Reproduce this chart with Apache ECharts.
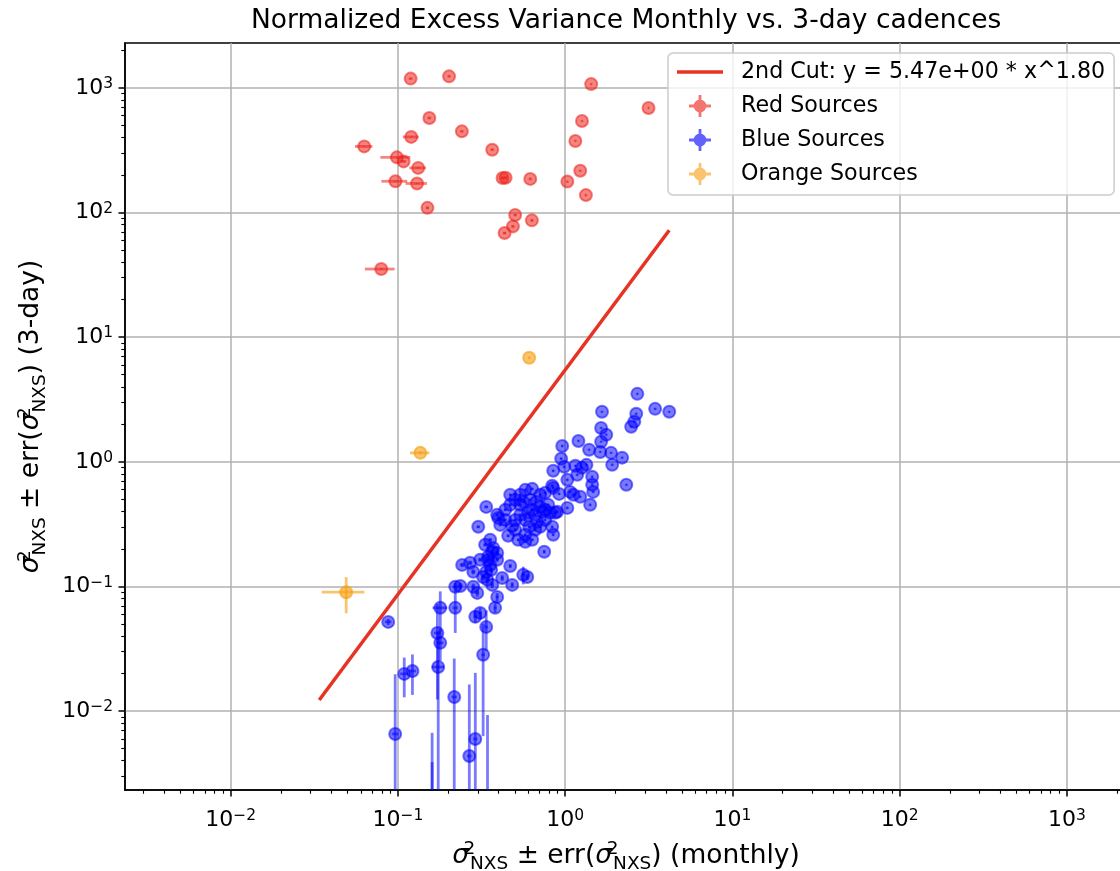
<!DOCTYPE html>
<html>
<head>
<meta charset="utf-8">
<script src="https://cdn.jsdelivr.net/npm/echarts@6/dist/echarts.min.js"></script>
<style>
html,body{margin:0;padding:0;background:#fff;}
#chart{width:1120px;height:871px;}
</style>
</head>
<body>
<div id="chart"></div>
<script>
// ---------------- data ----------------
const titleText = 'Normalized Excess Variance Monthly vs. 3-day cadences';
const fitName = '2nd Cut: y = 5.47e+00 * x^1.80';
const fitX = [0.0338, 4.19];
const fitY = [0.0123, 72.1];

const redX    = [0.119, 0.202, 1.43, 3.15, 0.154, 0.241, 1.26, 0.120, 1.15, 0.0628, 0.366, 0.0985, 0.108, 0.132, 1.23, 0.422, 0.440, 0.618, 1.03, 0.0966, 0.130, 1.33, 0.150, 0.502, 0.632, 0.487, 0.434, 0.0794];
const redY    = [1186, 1237, 1072, 690, 573, 448, 542, 404, 375, 339, 319, 277, 257, 228, 216, 189, 190, 186, 177, 178, 171, 138, 109, 95.5, 86.5, 77.4, 68.4, 35.2];
const redXErr = [0.003, 0.004, 0.01, 0.02, 0.004, 0.005, 0.008, 0.013, 0.006, 0.0075, 0.008, 0.02, 0.004, 0.015, 0.006, 0.01, 0.01, 0.012, 0.006, 0.017, 0.019, 0.006, 0.003, 0.01, 0.012, 0.01, 0.01, 0.016];
const redYErr = [10, 12, 15, 8, 6, 5, 8, 4, 6, 3, 3, 3, 3, 3, 4, 3, 3, 2, 3, 2, 2, 3, 2, 1.5, 1.5, 1.5, 1.2, 0.6];

const blueX = [2.70, 1.66, 2.66, 3.45, 4.19, 2.59, 2.48, 1.64, 1.76, 1.64, 1.20, 0.96, 1.39, 1.62, 1.88, 2.19, 1.91, 0.946, 0.986, 0.848,
  1.15, 1.26, 1.34, 1.18, 1.45, 1.03, 0.836, 1.45, 1.47, 2.32, 0.759, 0.92, 1.07, 1.12, 1.23, 1.41, 1.03, 0.759, 0.871, 0.635,
  0.561, 0.848, 0.671, 0.709, 0.538, 0.600, 0.635, 0.739, 0.813, 0.896, 0.337, 0.392, 0.398, 0.302, 0.482, 0.609, 0.680, 0.709, 0.836, 0.848,
  0.456, 0.523, 0.577, 0.635, 0.749, 0.332, 0.371, 0.392, 0.346, 0.310, 0.356, 0.242, 0.270, 0.469, 0.282, 0.323, 0.561, 0.593, 0.420, 0.366,
  0.482, 0.236, 0.282, 0.220, 0.392, 0.298, 0.179, 0.220, 0.381, 0.310, 0.290, 0.337, 0.323, 0.172, 0.179, 0.174, 0.109, 0.122, 0.0962, 0.0874,
  0.217, 0.290, 0.267, 0.343, 0.160, 0.160, 0.366, 0.346, 0.392, 0.337, 0.361, 0.342, 0.502, 0.469, 0.538, 0.438, 0.577, 0.502, 0.662, 0.409,
  0.469, 0.577, 0.618, 0.709, 0.538, 0.791, 0.502, 0.662, 0.759, 0.438, 0.577, 0.356];
const blueY = [3.51, 2.52, 2.43, 2.66, 2.52, 2.10, 1.91, 1.87, 1.65, 1.45, 1.47, 1.34, 1.25, 1.20, 1.18, 1.08, 0.946, 1.06, 0.912, 0.847,
  0.929, 0.895, 0.946, 0.787, 0.758, 0.717, 0.642, 0.654, 0.574, 0.654, 0.564, 0.553, 0.574, 0.544, 0.524, 0.452, 0.427, 0.412, 0.390, 0.607,
  0.478, 0.618, 0.478, 0.435, 0.376, 0.390, 0.412, 0.397, 0.390, 0.397, 0.435, 0.376, 0.355, 0.301, 0.306, 0.301, 0.330, 0.301, 0.301, 0.260,
  0.255, 0.237, 0.228, 0.237, 0.190, 0.216, 0.204, 0.186, 0.173, 0.164, 0.149, 0.149, 0.155, 0.146, 0.131, 0.119, 0.124, 0.119, 0.117, 0.103,
  0.103, 0.101, 0.0994, 0.0994, 0.0825, 0.0888, 0.0674, 0.0674, 0.0674, 0.0614, 0.0571, 0.0474, 0.0283, 0.0424, 0.0353, 0.0226, 0.0199, 0.0210, 0.00656, 0.052,
  0.0130, 0.00598, 0.00437, 0.0018, 0.0012, 0.0008, 0.190, 0.164, 0.164, 0.131, 0.136, 0.113, 0.496, 0.452, 0.544, 0.342, 0.342, 0.285, 0.285, 0.312,
  0.544, 0.596, 0.496, 0.544, 0.452, 0.452, 0.342, 0.376, 0.342, 0.412, 0.260, 0.237];
const blueXErr = [0.02, 0.01, 0.02, 0.02, 0.02, 0.01, 0.01, 0.01, 0.01, 0.01, 0.01, 0.01, 0.01, 0.01, 0.01, 0.01, 0.01, 0.01, 0.01, 0.01,
  0.01, 0.01, 0.01, 0.01, 0.01, 0.01, 0.01, 0.01, 0.01, 0.01, 0.01, 0.01, 0.01, 0.01, 0.01, 0.01, 0.01, 0.01, 0.01, 0.01,
  0.01, 0.01, 0.01, 0.01, 0.01, 0.01, 0.01, 0.01, 0.01, 0.01, 0.008, 0.008, 0.008, 0.006, 0.008, 0.01, 0.01, 0.01, 0.01, 0.01,
  0.008, 0.008, 0.01, 0.01, 0.01, 0.008, 0.008, 0.008, 0.008, 0.008, 0.008, 0.008, 0.008, 0.008, 0.008, 0.008, 0.01, 0.01, 0.008, 0.008,
  0.008, 0.008, 0.008, 0.008, 0.008, 0.008, 0.018, 0.008, 0.008, 0.008, 0.008, 0.008, 0.008, 0.008, 0.008, 0.015, 0.006, 0.006, 0.0045, 0.004,
  0.008, 0.008, 0.008, 0.008, 0.006, 0.006, 0.008, 0.008, 0.008, 0.008, 0.008, 0.008, 0.008, 0.008, 0.008, 0.008, 0.008, 0.008, 0.008, 0.008,
  0.008, 0.008, 0.008, 0.008, 0.008, 0.008, 0.008, 0.008, 0.008, 0.008, 0.008, 0.008];
const blueYErr = [0.05, 0.04, 0.04, 0.05, 0.04, 0.03, 0.03, 0.03, 0.03, 0.02, 0.02, 0.02, 0.02, 0.02, 0.02, 0.02, 0.02, 0.02, 0.02, 0.015,
  0.015, 0.015, 0.015, 0.015, 0.015, 0.012, 0.012, 0.012, 0.012, 0.012, 0.01, 0.01, 0.01, 0.01, 0.01, 0.01, 0.008, 0.008, 0.008, 0.01,
  0.008, 0.01, 0.008, 0.008, 0.007, 0.007, 0.007, 0.007, 0.007, 0.007, 0.008, 0.007, 0.007, 0.006, 0.006, 0.006, 0.006, 0.006, 0.006, 0.005,
  0.005, 0.005, 0.005, 0.005, 0.006, 0.006, 0.006, 0.006, 0.006, 0.006, 0.005, 0.006, 0.006, 0.005, 0.006, 0.006, 0.02, 0.006, 0.006, 0.006,
  0.005, 0.006, 0.006, 0.008, 0.006, 0.006, 0.024, 0.025, 0.006, 0.006, 0.006, 0.017, 0.022, 0.03, 0.01, 0.021, 0.007, 0.0075, 0.0132, 0.003,
  0.0134, 0.0143, 0.012, 0.0075, 0.0055, 0.0031, 0.006, 0.006, 0.006, 0.006, 0.006, 0.006, 0.008, 0.008, 0.008, 0.007, 0.007, 0.006, 0.006, 0.006,
  0.007, 0.007, 0.007, 0.007, 0.007, 0.007, 0.007, 0.007, 0.007, 0.007, 0.006, 0.006];

const orangeX    = [0.609, 0.136, 0.049];
const orangeY    = [6.84, 1.18, 0.090];
const orangeXErr = [0.01, 0.018, 0.014];
const orangeYErr = [0.08, 0.03, 0.029];

const axisMin = 0.00233, axisMax = 2290;
const majorTicks = [0.01, 0.1, 1, 10, 100, 1000];
const minorMantissa = [2, 3, 4, 5, 6, 7, 8, 9];
const minorDecades = [0.001, 0.01, 0.1, 1, 10, 100, 1000];

// ---------------- build ----------------
const minorTicks = [];
minorDecades.forEach(d => minorMantissa.forEach(m => minorTicks.push(+(m * d).toPrecision(3))));

function zip4(a, b, c, d) { return a.map((v, i) => [v, b[i], c[i], d[i]]); }

const FONT = 'DejaVu Sans';
const COL = {
  red: [236, 32, 26],
  blue: [0, 0, 255],
  orange: [245, 160, 20]
};
const LINE_COLOR = '#e63323';
function rgba(c, a) { return 'rgba(' + c[0] + ',' + c[1] + ',' + c[2] + ',' + a + ')'; }

function makeRender(c, alpha) {
  return function (params, api) {
    const cs = params.coordSys;
    const X0 = cs.x, X1 = cs.x + cs.width, Y0 = cs.y, Y1 = cs.y + cs.height;
    const x = api.value(0), y = api.value(1), ex = api.value(2), ey = api.value(3);
    const p = api.coord([x, y]);
    const cx = p[0], cy = p[1];
    const kids = [];
    const ls = { stroke: rgba(c, alpha), lineWidth: 2.8, fill: null };
    const clampY = v => Math.max(Y0, Math.min(Y1, v));
    const clampX = v => Math.max(X0, Math.min(X1, v));
    if (ey > 0 && cx >= X0 && cx <= X1) {
      const yt = api.coord([x, y + ey])[1];
      const yb = (y - ey) > 0 ? api.coord([x, y - ey])[1] : Y1 + 10;
      const a = clampY(yt), b = clampY(yb);
      if (b > a) kids.push({ type: 'line', shape: { x1: cx, y1: a, x2: cx, y2: b }, style: ls });
    }
    if (ex > 0 && cy >= Y0 && cy <= Y1) {
      const xl = (x - ex) > 0 ? api.coord([x - ex, y])[0] : X0;
      const xr = api.coord([x + ex, y])[0];
      const a = clampX(xl), b = clampX(xr);
      if (b > a) kids.push({ type: 'line', shape: { x1: a, y1: cy, x2: b, y2: cy }, style: ls });
    }
    if (cx >= X0 && cx <= X1 && cy >= Y0 && cy <= Y1) {
      kids.push({ type: 'circle', shape: { cx: cx, cy: cy, r: 6 },
        style: { fill: rgba(c, alpha), stroke: rgba(c, alpha), lineWidth: 2 } });
    }
    return { type: 'group', children: kids };
  };
}

const crossIcon = 'path://M0,9.6h22v2.8h-22zM9.6,0h2.8v22h-2.8zM11,4.6a6.4,6.4 0 1,1 -0.01,0z';
const lineIcon = 'path://M0,0h46v3.5h-46z';

function tickFmt(v) {
  const e = Math.round(Math.log10(v));
  return '{b|10}{s|' + (e < 0 ? '\u2212' + (-e) : e) + '}';
}
const tickRich = {
  b: { fontSize: 22, lineHeight: 30, fontFamily: FONT, color: '#000' },
  s: { fontSize: 15.5, lineHeight: 16, verticalAlign: 'top', padding: [3, 0, 0, 0], fontFamily: FONT, color: '#000' }
};
const nameRich = {
  i: { fontSize: 26.5, lineHeight: 40, fontStyle: 'italic', fontFamily: FONT, color: '#000' },
  t: { fontSize: 26.5, lineHeight: 40, fontFamily: FONT, color: '#000' },
  sup: { fontSize: 18.5, lineHeight: 18, width: 1, verticalAlign: 'top', padding: [4, 0, 0, 0], fontFamily: FONT, color: '#000' },
  sub: { fontSize: 18.5, lineHeight: 18, verticalAlign: 'bottom', padding: [0, 0, 2, 0], fontFamily: FONT, color: '#000' }
};
const sig = '{i|σ}{sup|2}{sub|NXS}';
const xName = sig + '{t| ± err(}' + sig + '{t|) (monthly)}';
const yName = sig + '{t| ± err(}' + sig + '{t|) (3-day)}';

function mainAxis(pos, name, gap) {
  return {
    type: 'log', logBase: 10, min: axisMin, max: axisMax, position: pos,
    name: name, nameLocation: 'middle', nameGap: gap,
    nameTextStyle: { rich: nameRich },
    axisLine: { show: true, lineStyle: { color: '#000', width: 1.5 } },
    axisTick: { show: true, inside: false, length: 6.5, lineStyle: { color: '#000', width: 1.5 }, customValues: majorTicks },
    axisLabel: { show: true, customValues: majorTicks, formatter: tickFmt, rich: tickRich, margin: pos === 'bottom' ? 15 : 12, hideOverlap: false },
    splitLine: { show: true, lineStyle: { color: '#b0b0b0', width: 1.5 } },
    minorTick: { show: false }
  };
}
function minorAxis(pos) {
  return {
    type: 'log', logBase: 10, min: axisMin, max: axisMax, position: pos,
    axisLine: { show: false },
    axisTick: { show: true, length: 3.7, lineStyle: { color: '#000', width: 1.1 }, customValues: minorTicks },
    axisLabel: { show: false },
    splitLine: { show: false }
  };
}

const chart = echarts.init(document.getElementById('chart'), null, { renderer: 'canvas' });
chart.setOption({
  animation: false,
  backgroundColor: '#fff',
  title: {
    text: titleText, left: 246, top: 3,
    textStyle: { fontSize: 26.5, fontWeight: 'normal', fontFamily: FONT, color: '#000' }
  },
  grid: { left: 125, top: 43, right: -7, bottom: 81, show: true, borderColor: '#000', borderWidth: 1.5, backgroundColor: 'transparent', outerBoundsMode: 'none', containLabel: false },
  xAxis: [mainAxis('bottom', xName, 42), minorAxis('bottom')],
  yAxis: [mainAxis('left', yName, 68), minorAxis('left')],
  legend: {
    orient: 'vertical', left: 668, top: 53, padding: [8, 9, 10, 9],
    itemWidth: 46, itemHeight: 22, itemGap: 12,
    backgroundColor: 'rgba(255,255,255,0.8)', borderColor: '#cccccc', borderWidth: 1.5, borderRadius: 5,
    textStyle: { fontSize: 22.2, fontFamily: FONT, color: '#000', padding: [0, 0, 0, 13] },
    data: [
      { name: fitName, icon: lineIcon, itemStyle: { color: LINE_COLOR } },
      { name: 'Red Sources', icon: crossIcon, itemStyle: { color: rgba(COL.red, 0.62) } },
      { name: 'Blue Sources', icon: crossIcon, itemStyle: { color: rgba(COL.blue, 0.62) } },
      { name: 'Orange Sources', icon: crossIcon, itemStyle: { color: rgba(COL.orange, 0.62) } }
    ]
  },
  series: [
    {
      name: fitName, type: 'line', xAxisIndex: 0, yAxisIndex: 0,
      data: fitX.map((v, i) => [v, fitY[i]]),
      showSymbol: false, symbol: 'none',
      lineStyle: { color: LINE_COLOR, width: 3.5 }, itemStyle: { color: LINE_COLOR }, z: 3
    },
    {
      name: 'Red Sources', type: 'custom', xAxisIndex: 0, yAxisIndex: 0,
      data: zip4(redX, redY, redXErr, redYErr), encode: { x: 0, y: 1 },
      renderItem: makeRender(COL.red, 0.55), itemStyle: { color: rgba(COL.red, 0.62) }, z: 4
    },
    {
      name: 'Blue Sources', type: 'custom', xAxisIndex: 0, yAxisIndex: 0,
      data: zip4(blueX, blueY, blueXErr, blueYErr), encode: { x: 0, y: 1 },
      renderItem: makeRender(COL.blue, 0.52), itemStyle: { color: rgba(COL.blue, 0.62) }, z: 4
    },
    {
      name: 'Orange Sources', type: 'custom', xAxisIndex: 0, yAxisIndex: 0,
      data: zip4(orangeX, orangeY, orangeXErr, orangeYErr), encode: { x: 0, y: 1 },
      renderItem: makeRender(COL.orange, 0.62), itemStyle: { color: rgba(COL.orange, 0.62) }, z: 4
    }
  ]
});
</script>
</body>
</html>
